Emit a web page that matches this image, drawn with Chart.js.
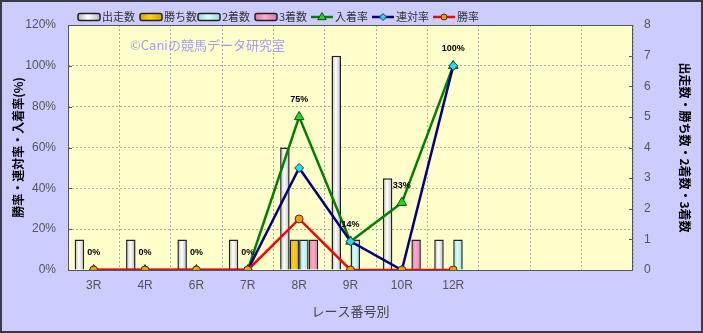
<!DOCTYPE html>
<html>
<head>
<meta charset="utf-8">
<script src="https://cdn.jsdelivr.net/npm/chart.js@4"></script>
<style>
  html, body { margin: 0; padding: 0; background: #CCCCFF; }
  #caja { width: 703px; height: 333px; }
</style>
</head>
<body>
<div id="caja"><canvas id="grafica" width="703" height="333"></canvas></div>
<script>
// datos
const carreras = ['3R', '4R', '6R', '7R', '8R', '9R', '10R', '12R', '', '', ''];
const shusso   = [1, 1, 1, 1, 4, 7, 3, 1, null, null, null];
const kachi    = [null, null, null, null, 1, null, null, null, null, null, null];
const nichaku  = [null, null, null, null, 1, 1, null, 1, null, null, null];
const sanchaku = [null, null, null, null, 1, null, 1, null, null, null, null];
const nyuchaku = [0, 0, 0, 0, 75, 14, 33, 100, null, null, null];
const rentai   = [0, 0, 0, 0, 50, 14, 0, 100, null, null, null];
const shoritsu = [0, 0, 0, 0, 25, 0, 0, 0, null, null, null];

const JP = "'Noto Sans CJK JP', sans-serif";
const LAT = "'Liberation Sans', Arial, sans-serif";
const PCT_CAT = 0.74;
// x de inicio de cada elemento de la leyenda
const leyendaX = [78, 140, 198, 255, 311, 372, 433];

Chart.defaults.font.family = LAT;

// degradado horizontal para cada barra
function degradado(oscuro, claro) {
  return (ctx) => {
    const chart = ctx.chart;
    const x = chart.scales.x;
    if (!x || !chart.chartArea) return claro;
    const anchoCat = x.width / carreras.length;
    const anchoBarra = anchoCat * PCT_CAT / 4;
    const c = x.getPixelForValue(ctx.dataIndex) + (ctx.datasetIndex - 1.5) * anchoBarra;
    const g = chart.ctx.createLinearGradient(c - anchoBarra / 2, 0, c + anchoBarra / 2, 0);
    g.addColorStop(0, oscuro);
    g.addColorStop(0.45, claro);
    g.addColorStop(1, oscuro);
    return g;
  };
}

function marcador(ctx, estilo, x, y, r, relleno) {
  ctx.save();
  ctx.fillStyle = relleno;
  ctx.strokeStyle = '#333';
  ctx.lineWidth = 1;
  ctx.beginPath();
  if (estilo === 'triangle') {
    ctx.moveTo(x, y - r);
    ctx.lineTo(x + r * 0.95, y + r * 0.6);
    ctx.lineTo(x - r * 0.95, y + r * 0.6);
    ctx.closePath();
  } else if (estilo === 'rectRot') {
    ctx.moveTo(x, y - r);
    ctx.lineTo(x + r, y);
    ctx.lineTo(x, y + r);
    ctx.lineTo(x - r, y);
    ctx.closePath();
  } else {
    ctx.arc(x, y, r, 0, Math.PI * 2);
  }
  ctx.fill();
  ctx.stroke();
  ctx.restore();
}

const fondo = {
  id: 'fondo',
  beforeDraw(chart) {
    const { ctx, chartArea: a } = chart;
    ctx.save();
    ctx.fillStyle = '#CCCCFF';
    ctx.fillRect(0, 0, chart.width, chart.height);
    ctx.strokeStyle = '#3a3a4a';
    ctx.lineWidth = 2;
    ctx.strokeRect(1, 1, chart.width - 2, chart.height - 2);
    ctx.fillStyle = '#FFFFCC';
    ctx.fillRect(a.left, a.top, a.right - a.left, a.bottom - a.top);
    ctx.restore();
  },
  beforeDatasetsDraw(chart) {
    const { ctx, chartArea: a } = chart;
    ctx.save();
    // marca de agua
    ctx.fillStyle = '#9f9ff5';
    ctx.font = '13px ' + JP;
    ctx.textBaseline = 'middle';
    ctx.fillText('©Caniの競馬データ研究室', 130, 45);
    // borde del area
    ctx.strokeStyle = '#555';
    ctx.lineWidth = 1;
    ctx.strokeRect(a.left + 0.5, a.top + 0.5, a.right - a.left - 1, a.bottom - a.top);
    // marcas hacia dentro
    const izq = chart.scales.y, der = chart.scales.y2;
    ctx.beginPath();
    izq.ticks.forEach((t, i) => {
      const py = Math.round(izq.getPixelForTick(i)) + 0.5;
      ctx.moveTo(a.left, py); ctx.lineTo(a.left + 4, py);
    });
    der.ticks.forEach((t, i) => {
      const py = Math.round(der.getPixelForTick(i)) + 0.5;
      ctx.moveTo(a.right, py); ctx.lineTo(a.right - 4, py);
    });
    ctx.stroke();
    ctx.restore();
  },
  afterDatasetsDraw(chart) {
    const { ctx } = chart;
    const meta = chart.getDatasetMeta(4);
    ctx.save();
    ctx.fillStyle = '#000';
    ctx.font = 'bold 9px ' + LAT;
    ctx.textAlign = 'center';
    ctx.textBaseline = 'middle';
    meta.data.forEach((p, i) => {
      const v = nyuchaku[i];
      if (v === null) return;
      ctx.fillText(v + '%', p.x, p.y - 17);
    });
    ctx.restore();
  },
  afterDraw(chart) {
    // leyenda
    const { ctx } = chart;
    const ds = chart.data.datasets;
    const y = 17;
    ctx.save();
    ctx.font = '11px ' + JP;
    ctx.textBaseline = 'middle';
    ds.forEach((d, i) => {
      const x = leyendaX[i];
      if (d.type === 'line') {
        ctx.strokeStyle = d.borderColor;
        ctx.lineWidth = 2.5;
        ctx.beginPath();
        ctx.moveTo(x, y); ctx.lineTo(x + 22, y);
        ctx.stroke();
        marcador(ctx, d.pointStyle, x + 11, y, d.pointRadius - 1, d.pointBackgroundColor);
      } else {
        const g = ctx.createLinearGradient(x, 0, x + 22, 0);
        g.addColorStop(0, d.legendDark);
        g.addColorStop(0.45, d.legendLight);
        g.addColorStop(1, d.legendDark);
        ctx.fillStyle = g;
        ctx.strokeStyle = '#222';
        ctx.lineWidth = 1.5;
        ctx.beginPath();
        ctx.roundRect(x, y - 3.5, 22, 7, 2);
        ctx.fill();
        ctx.stroke();
      }
      ctx.fillStyle = '#333';
      ctx.fillText(d.label, x + 24, y);
    });
    ctx.restore();
  }
};

function barra(label, datos, oscuro, claro) {
  return {
    type: 'bar', label: label, data: datos, yAxisID: 'y2', order: 10,
    backgroundColor: degradado(oscuro, claro), borderColor: '#222', borderWidth: 1.5,
    barPercentage: 1, categoryPercentage: PCT_CAT,
    legendDark: oscuro, legendLight: claro
  };
}

function linea(label, datos, color, estilo, radio, relleno, orden) {
  return {
    type: 'line', label: label, data: datos, yAxisID: 'y', order: orden,
    borderColor: color, borderWidth: 2.5, tension: 0,
    pointStyle: estilo, pointRadius: radio, pointBackgroundColor: relleno,
    pointBorderColor: '#333', pointBorderWidth: 1
  };
}

new Chart('grafica', {
  data: {
    labels: carreras,
    datasets: [
      barra('出走数', shusso, '#b8b8b8', '#ffffff'),
      barra('勝ち数', kachi, '#d9a400', '#ffd21a'),
      barra('2着数', nichaku, '#9fd6d6', '#d6ffff'),
      barra('3着数', sanchaku, '#d97aa8', '#ffaad0'),
      linea('入着率', nyuchaku, '#008000', 'triangle', 5.5, '#00ee00', 3),
      linea('連対率', rentai, '#000080', 'rectRot', 4.5, '#22ddee', 2),
      linea('勝率', shoritsu, '#ff0000', 'circle', 4, '#ff9900', 1)
    ]
  },
  options: {
    responsive: false,
    animation: false,
    devicePixelRatio: 1,
    layout: { padding: { top: 25, left: 0, right: 0, bottom: 0 } },
    plugins: { legend: { display: false }, tooltip: { enabled: false } },
    scales: {
      x: {
        offset: true,
        grid: { offset: true, color: '#aaaaaa', drawTicks: false },
        border: { display: false, dash: [2, 2] },
        ticks: { color: '#555', font: { size: 12 }, padding: 8 },
        title: { display: true, text: 'レース番号別', color: '#444', font: { size: 13, family: JP }, padding: { top: 0, bottom: 14 } },
        afterFit: (s) => { s.height = 63; }
      },
      y: {
        position: 'left', min: 0, max: 120,
        grid: { color: '#aaaaaa', drawTicks: false },
        border: { display: false, dash: [2, 2] },
        ticks: { stepSize: 20, color: '#555', font: { size: 12 }, padding: 12, callback: (v) => v + '%' },
        title: { display: true, text: '勝率・連対率・入着率(%)', color: '#000', font: { size: 12, weight: 'bold', family: JP }, padding: { top: 11, bottom: 0 } },
        afterFit: (s) => { s.width = 68; }
      },
      y2: {
        position: 'right', min: 0, max: 8,
        grid: { drawOnChartArea: false, drawTicks: false },
        border: { display: false },
        ticks: { stepSize: 1, color: '#555', font: { size: 12 }, padding: 11 },
        title: { display: true, text: '出走数・勝ち数・2着数・3着数', color: '#000', font: { size: 12, weight: 'bold', family: JP }, padding: { top: 11, bottom: 0 } },
        afterFit: (s) => { s.width = 70; }
      }
    }
  },
  plugins: [fondo]
});
</script>
</body>
</html>
